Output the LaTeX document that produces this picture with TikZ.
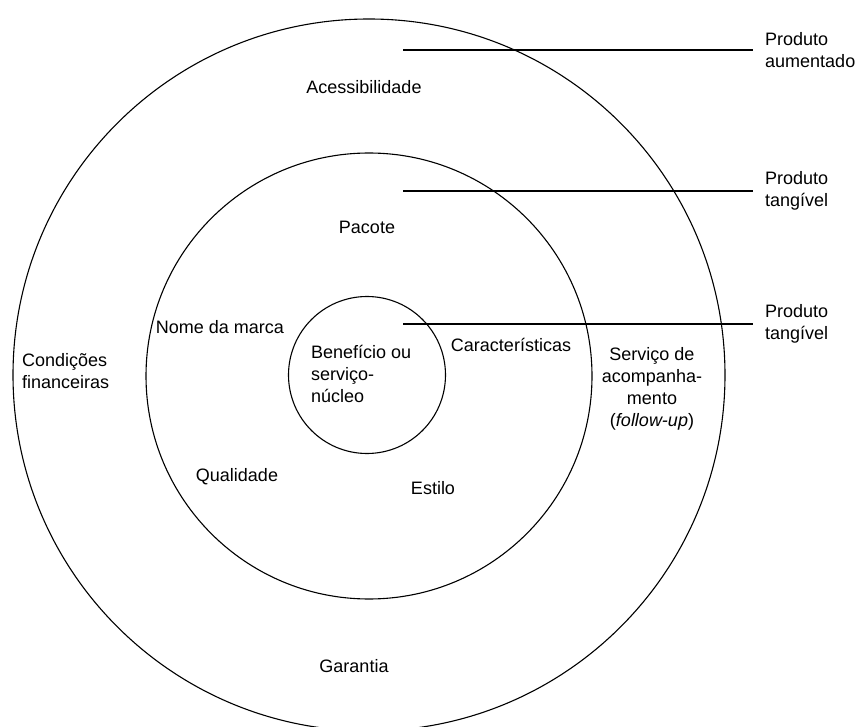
\documentclass[tikz,border=0pt]{standalone}
\usepackage{fontspec}
\setmainfont{Liberation Sans}
\begin{document}
\begin{tikzpicture}[x=1pt,y=-1pt,
  ring/.style={draw=black,line width=1.1pt,circle,inner sep=0pt},
  lbl/.style={font=\fontsize{18}{22}\selectfont,inner sep=0pt,align=center},
  side/.style={font=\fontsize{18}{22}\selectfont,inner sep=0pt,inner xsep=12pt,anchor=west,align=left},
  lead/.style={line width=1.1pt}]
\useasboundingbox (0,0) rectangle (862,727);
\fill[white] (0,0) rectangle (862,727);
\begin{scope}
\clip (0,0) rectangle (862,727);
\node[ring,minimum size=712pt] (outer) at (369,375) {};
\end{scope}
\node[ring,minimum size=446pt] (middle) at (369,376) {};
\node[ring,minimum size=157pt] (inner) at (367,375) {};

\coordinate (s1) at (403,50);
\coordinate (s2) at (403,191);
\coordinate (s3) at (403,324);
\node[side] (p1) at (753,50) {Produto\\aumentado};
\node[side] (p2) at (753,191) {Produto\\tangível};
\node[side] (p3) at (753,324) {Produto\\tangível};
\draw[lead] (s1) -- (p1.west);
\draw[lead] (s2) -- (p2.west);
\draw[lead] (s3) -- (p3.west);

\node[lbl] (acess) at (364,87) {Acessibilidade};
\node[lbl] (pacote) at (367,227) {Pacote};
\node[lbl] (nome) at (220,327) {Nome da marca};
\node[lbl] (carac) at (511,345) {Características};
\node[lbl,align=left,anchor=west] (benef) at (311,374) {Benefício ou\\serviço-\\núcleo};
\node[lbl,align=left,anchor=west] (cond) at (22,371) {Condições\\financeiras};
\node[lbl] (serv) at (652,389) {Serviço de\\acompanha-\\mento\\(\textit{follow-up})};
\node[lbl] (qual) at (237,477) {Qualidade};
\node[lbl] (estilo) at (433,488) {Estilo};
\node[lbl] (garantia) at (354,666) {Garantia};
\end{tikzpicture}
\end{document}
